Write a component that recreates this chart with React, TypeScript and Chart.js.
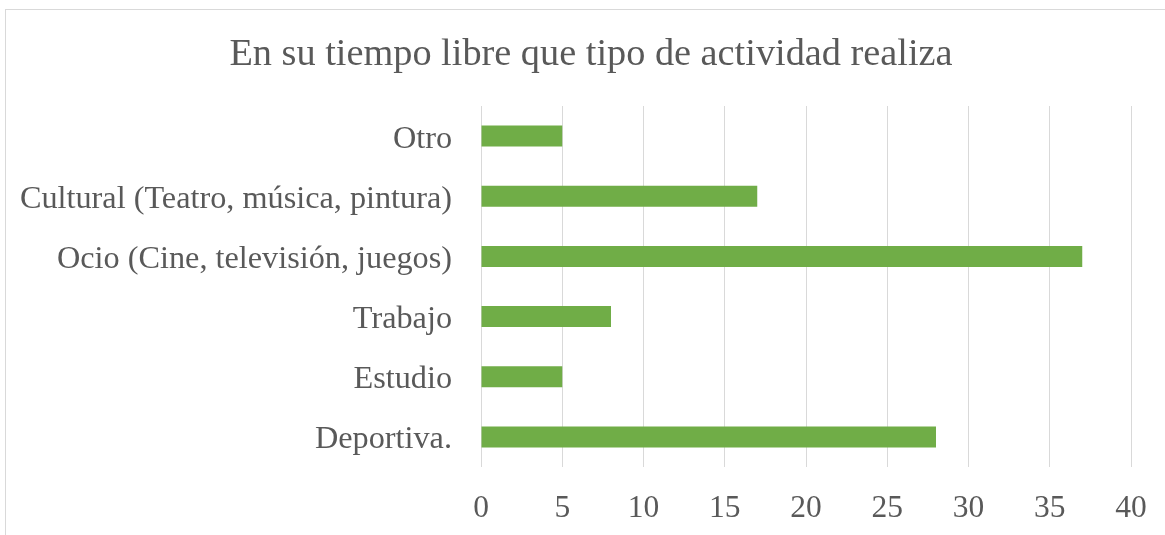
import React, { useEffect, useRef } from "react";
import { Chart, registerables } from "chart.js";

Chart.register(...registerables);

const titleText = "En su tiempo libre que tipo de actividad realiza";
const categories = [
  "Otro",
  "Cultural (Teatro, música, pintura)",
  "Ocio (Cine, televisión, juegos)",
  "Trabajo",
  "Estudio",
  "Deportiva.",
];
const values = [5, 17, 37, 8, 5, 28];
const xMin = 0;
const xMax = 40;
const xStep = 5;

const FONT = '"Liberation Serif", "Times New Roman", serif';
const TEXT = "#595959";
const GRID = "#d9d9d9";
const BAR = "#70AD47";

export default function App() {
  const ref = useRef<HTMLCanvasElement | null>(null);

  useEffect(() => {
    const canvas = ref.current;
    if (!canvas) return;

    const decor = {
      id: "decor",
      beforeDraw(chart: any) {
        const ctx = chart.ctx;
        ctx.save();
        ctx.fillStyle = "#ffffff";
        ctx.fillRect(0, 0, chart.width, chart.height);
        ctx.strokeStyle = GRID;
        ctx.lineWidth = 1;
        ctx.strokeRect(5.5, 9.5, 3000, 3000);
        ctx.restore();
      },
      afterDraw(chart: any) {
        const ctx = chart.ctx;
        ctx.save();
        ctx.fillStyle = TEXT;
        ctx.font = `38.3px ${FONT}`;
        ctx.textAlign = "center";
        ctx.textBaseline = "alphabetic";
        ctx.fillText(titleText, 591, 65);
        ctx.restore();
      },
    };

    const chart = new Chart(canvas, {
      type: "bar",
      data: {
        labels: categories,
        datasets: [
          {
            data: values,
            backgroundColor: BAR,
            borderWidth: 0,
            barPercentage: 0.35,
            categoryPercentage: 1,
          },
        ],
      },
      options: {
        indexAxis: "y",
        animation: false,
        responsive: false,
        devicePixelRatio: 1,
        layout: { padding: { top: 106, right: 34, left: 0, bottom: 0 } },
        plugins: {
          legend: { display: false },
          title: { display: false },
          tooltip: { enabled: false },
        },
        scales: {
          x: {
            min: xMin,
            max: xMax,
            ticks: {
              stepSize: xStep,
              color: TEXT,
              font: { family: FONT, size: 31.5 },
              padding: 23,
            },
            grid: { color: GRID, lineWidth: 1, drawTicks: false },
            border: { display: false },
            afterFit(scale: any) {
              scale.height = 68;
              scale.paddingLeft = 0;
              scale.paddingRight = 0;
            },
          },
          y: {
            ticks: {
              color: TEXT,
              font: { family: FONT, size: 32.25 },
              padding: 29,
              labelOffset: 3,
            },
            grid: { display: false, drawTicks: false },
            border: { display: false },
            afterFit(scale: any) {
              scale.width = 481;
              scale.paddingTop = 0;
              scale.paddingBottom = 0;
            },
          },
        },
      },
      plugins: [decor],
    } as any);

    return () => chart.destroy();
  }, []);

  return (
    <div
      style={{
        position: "fixed",
        left: 0,
        top: 0,
        width: 1165,
        height: 535,
        overflow: "hidden",
        background: "#ffffff",
      }}
    >
      <canvas ref={ref} width={1165} height={535} style={{ display: "block" }} />
    </div>
  );
}
